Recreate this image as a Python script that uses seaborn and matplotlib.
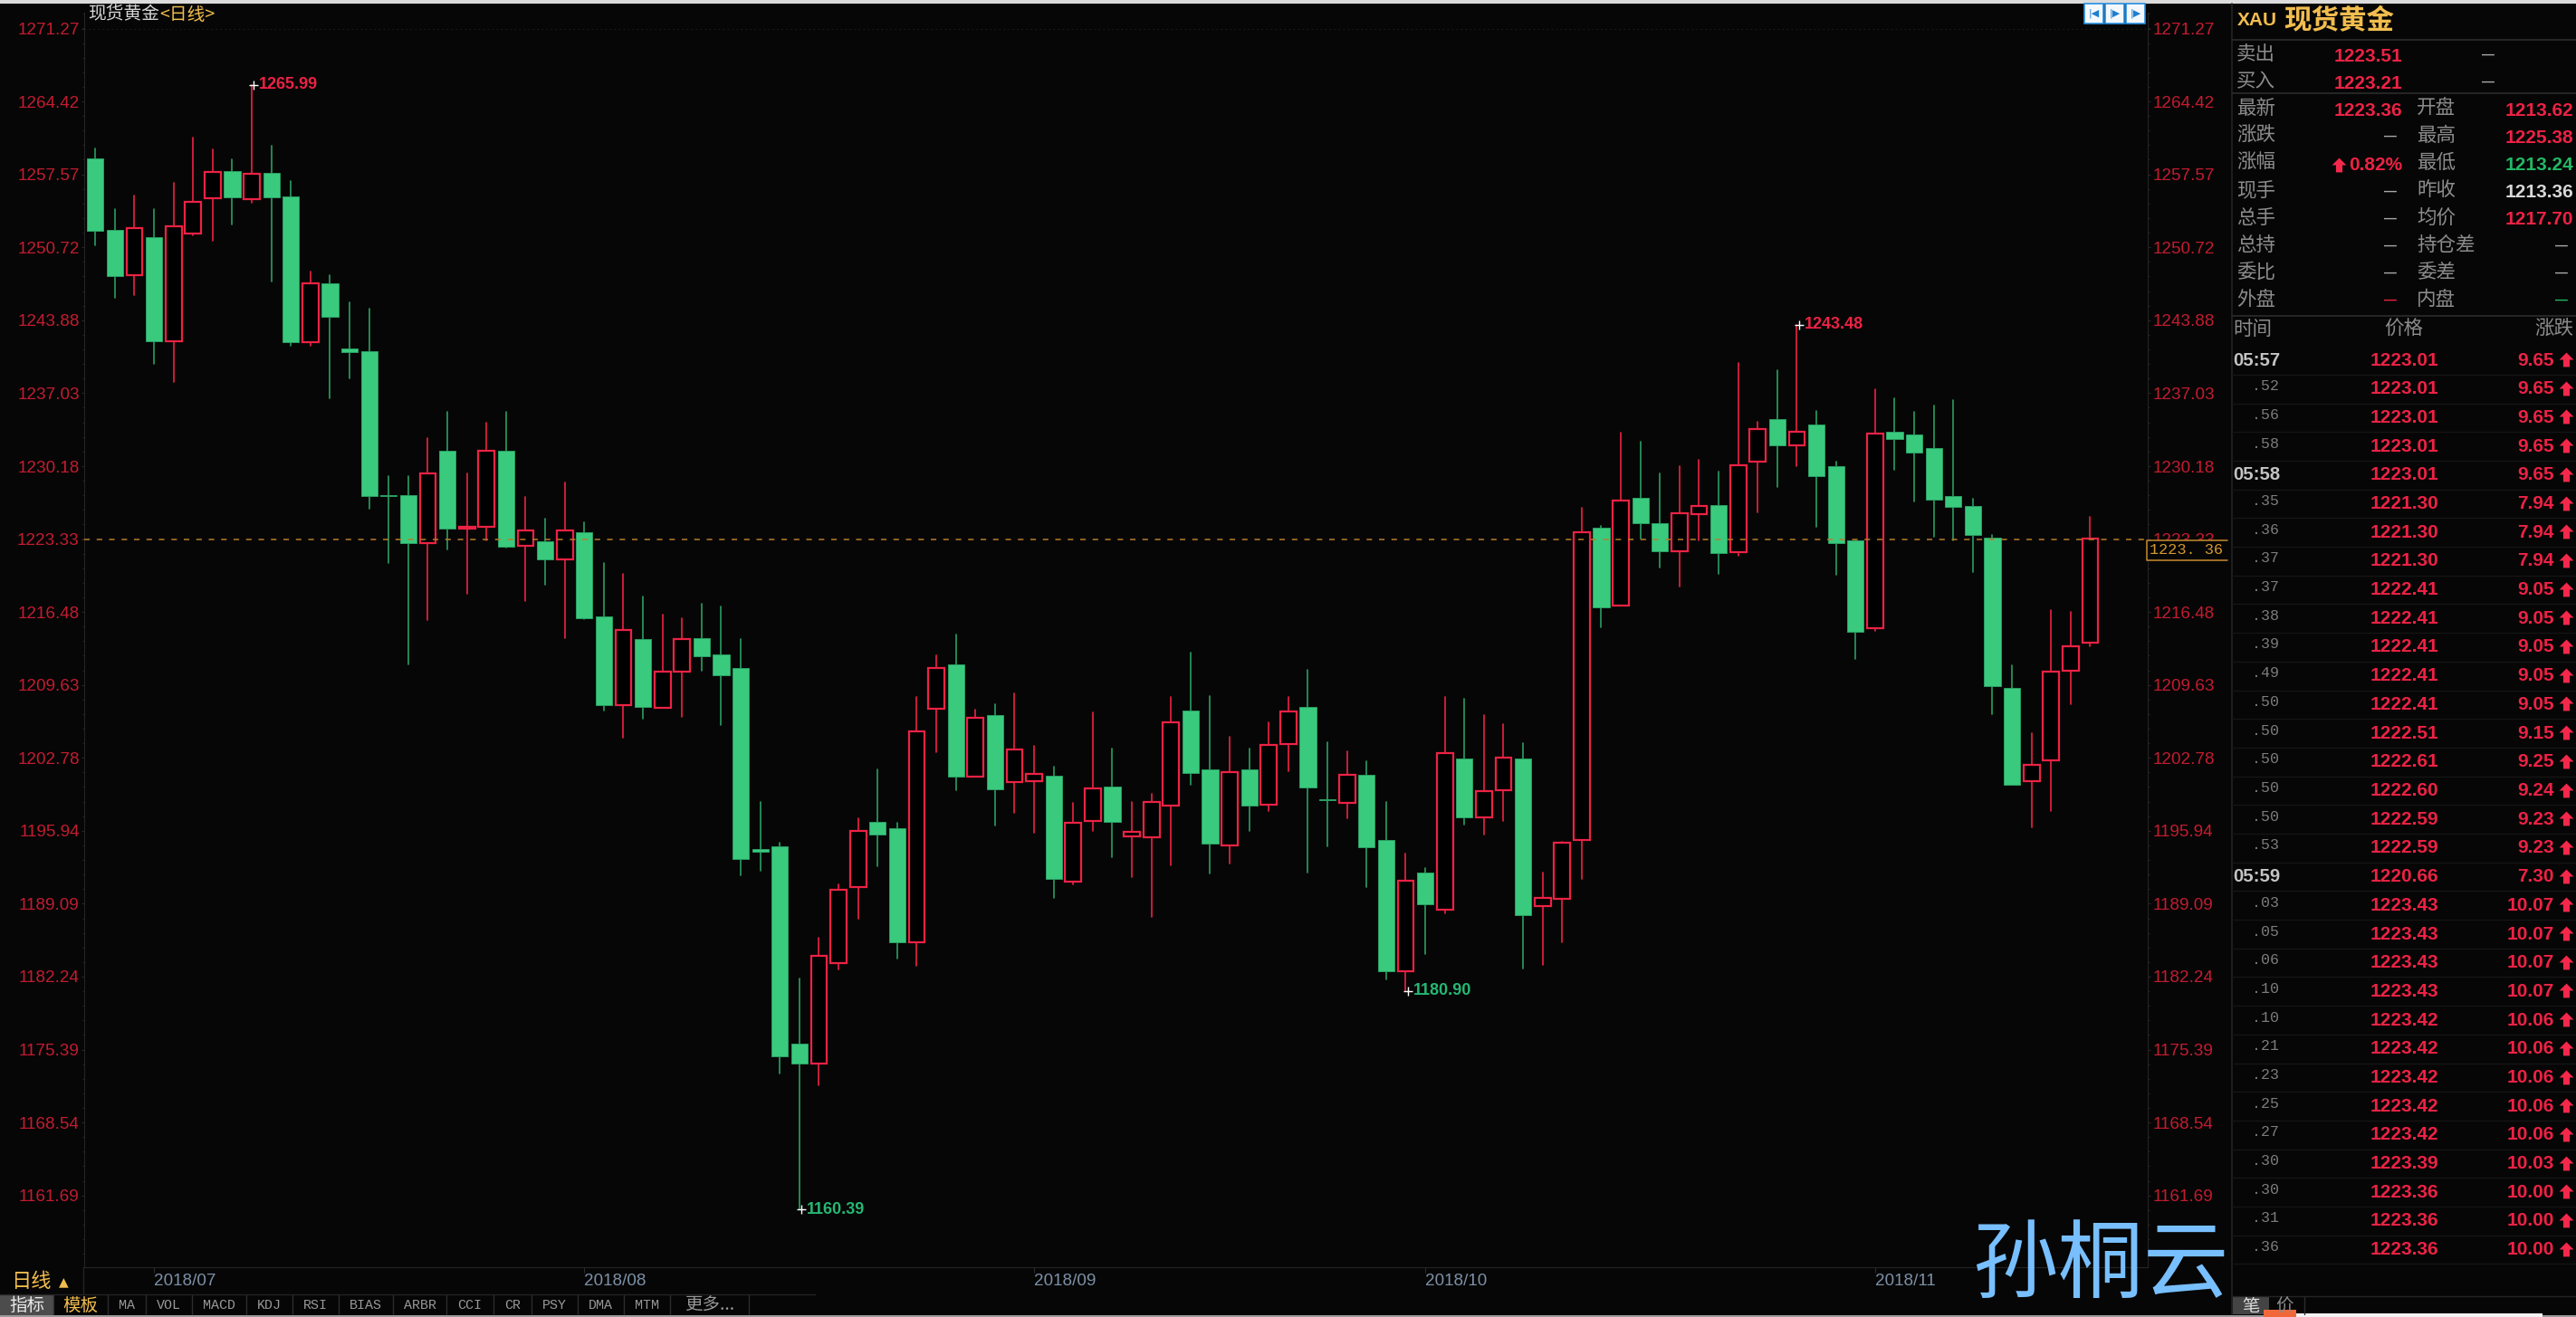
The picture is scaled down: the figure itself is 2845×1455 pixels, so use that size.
import numpy as np
import pandas as pd
import matplotlib
matplotlib.use('Agg')
import matplotlib.pyplot as plt
import seaborn as sns
from matplotlib.patches import Rectangle
from matplotlib.ticker import AutoMinorLocator
from matplotlib.transforms import blended_transform_factory

# daily candles
opens = [1259.11, 1252.34, 1248.11, 1251.72, 1241.93, 1252.03, 1255.36, 1257.86, 1255.22, 1257.69,
         1255.54, 1241.79, 1247.38, 1241.24, 1241.00, 1227.46, 1227.46, 1222.95, 1231.66, 1224.34,
         1224.48, 1231.66, 1222.67, 1223.16, 1221.39, 1223.99, 1216.05, 1207.77, 1213.98, 1207.49,
         1210.86, 1214.06, 1212.50, 1211.26, 1194.21, 1194.45, 1175.96, 1174.08, 1183.54, 1190.68,
         1196.74, 1196.22, 1185.43, 1207.41, 1211.54, 1200.99, 1206.81, 1200.51, 1200.63, 1201.07,
         1191.20, 1196.82, 1200.07, 1195.41, 1195.29, 1198.34, 1207.21, 1201.71, 1194.53, 1201.71,
         1198.38, 1204.08, 1207.57, 1198.93, 1198.59, 1201.20, 1195.08, 1182.78, 1192.01, 1188.53,
         1202.73, 1197.20, 1199.75, 1202.73, 1188.90, 1189.56, 1195.04, 1224.42, 1217.09, 1227.22,
         1224.79, 1222.19, 1225.65, 1226.56, 1222.07, 1230.60, 1234.60, 1232.12, 1234.10, 1230.15,
         1223.18, 1214.94, 1233.44, 1233.19, 1231.92, 1227.34, 1226.44, 1223.47, 1209.34, 1200.61,
         1202.54, 1210.99, 1213.62]
highs = [1260.01, 1254.29, 1255.64, 1254.29, 1256.82, 1261.05, 1259.91, 1259.01, 1265.99, 1260.25,
         1256.92, 1248.49, 1248.14, 1245.58, 1244.95, 1229.27, 1229.27, 1232.81, 1235.24, 1229.51,
         1234.23, 1235.24, 1227.32, 1225.21, 1228.61, 1224.93, 1221.08, 1220.07, 1217.92, 1216.24,
         1215.87, 1217.27, 1217.03, 1213.94, 1198.66, 1194.85, 1182.10, 1185.87, 1190.88, 1197.10,
         1201.71, 1196.70, 1208.49, 1212.42, 1214.35, 1207.33, 1207.85, 1208.85, 1203.88, 1201.99,
         1198.54, 1207.09, 1203.64, 1198.66, 1199.43, 1208.49, 1212.66, 1208.61, 1204.76, 1203.64,
         1206.16, 1208.49, 1211.02, 1204.26, 1203.38, 1202.47, 1198.65, 1193.80, 1192.41, 1208.48,
         1208.34, 1206.81, 1205.93, 1204.14, 1192.04, 1194.92, 1226.31, 1224.58, 1233.32, 1232.45,
         1229.53, 1230.15, 1230.76, 1229.65, 1239.83, 1234.35, 1239.21, 1243.48, 1235.38, 1230.64,
         1223.22, 1237.40, 1236.53, 1235.25, 1235.91, 1236.41, 1227.10, 1223.76, 1211.52, 1205.14,
         1216.63, 1216.51, 1225.38]
lows = [1250.89, 1246.03, 1246.27, 1239.78, 1238.12, 1251.89, 1251.37, 1252.90, 1254.95, 1247.52,
        1241.52, 1241.52, 1236.55, 1238.46, 1226.21, 1221.11, 1211.57, 1215.77, 1222.40, 1218.20,
        1223.23, 1222.50, 1217.54, 1219.07, 1214.00, 1215.80, 1207.21, 1204.68, 1206.44, 1207.49,
        1206.60, 1210.94, 1205.84, 1191.80, 1192.17, 1173.15, 1160.39, 1172.03, 1182.90, 1187.67,
        1192.57, 1183.90, 1183.26, 1203.28, 1199.71, 1200.99, 1196.42, 1197.66, 1195.77, 1189.64,
        1190.88, 1195.90, 1193.45, 1191.56, 1187.87, 1192.69, 1200.23, 1191.92, 1192.85, 1195.90,
        1197.78, 1201.51, 1192.04, 1194.45, 1197.14, 1190.63, 1181.95, 1180.90, 1184.39, 1188.22,
        1196.52, 1195.61, 1196.89, 1182.97, 1183.38, 1185.44, 1191.42, 1215.03, 1217.09, 1223.39,
        1220.63, 1218.86, 1223.22, 1220.09, 1221.78, 1225.86, 1228.25, 1230.19, 1224.46, 1219.97,
        1212.06, 1214.70, 1229.82, 1226.85, 1223.55, 1223.22, 1220.22, 1206.87, 1200.23, 1196.28,
        1197.80, 1207.86, 1213.24]
closes = [1252.27, 1248.04, 1252.55, 1241.90, 1252.69, 1254.98, 1257.79, 1255.43, 1257.65, 1255.43,
          1241.79, 1247.35, 1244.22, 1240.89, 1227.39, 1227.36, 1222.95, 1229.48, 1224.31, 1224.51,
          1231.63, 1222.64, 1224.13, 1221.39, 1224.13, 1215.88, 1207.72, 1214.83, 1207.60, 1210.89,
          1213.94, 1212.34, 1210.54, 1193.33, 1193.97, 1174.72, 1174.08, 1184.22, 1190.44, 1195.94,
          1195.61, 1185.43, 1205.24, 1211.26, 1200.99, 1206.52, 1199.83, 1203.60, 1201.31, 1191.44,
          1196.70, 1199.91, 1196.78, 1195.81, 1198.62, 1206.12, 1201.35, 1194.73, 1201.43, 1198.30,
          1203.96, 1207.17, 1199.99, 1198.82, 1201.17, 1194.37, 1182.72, 1191.22, 1189.01, 1203.21,
          1197.17, 1199.64, 1202.84, 1187.99, 1189.65, 1194.80, 1223.97, 1216.92, 1226.93, 1224.83,
          1222.15, 1225.78, 1226.40, 1222.03, 1230.23, 1233.69, 1232.12, 1233.40, 1229.28, 1222.94,
          1214.61, 1233.28, 1232.74, 1231.46, 1227.01, 1226.36, 1223.76, 1209.55, 1200.23, 1202.17,
          1210.86, 1213.29, 1223.36]

y_labels = ['1271.27', '1264.42', '1257.57', '1250.72', '1243.88', '1237.03', '1230.18', '1223.33', '1216.48',
            '1209.63', '1202.78', '1195.94', '1189.09', '1182.24', '1175.39', '1168.54', '1161.69']
month_days = [3, 25, 48, 68, 91]
month_labels = ['2018/07', '2018/08', '2018/09', '2018/10', '2018/11']
peak_days = [8, 87]
trough_days = [36, 67]

quote_top = [('卖出', '1223.51'), ('买入', '1223.21')]
left_names = ['最新', '涨跌', '涨幅', '现手', '总手', '总持', '委比', '外盘']
left_values = ['1223.36', '—', '0.82%', '—', '—', '—', '—', '—']
right_names = ['开盘', '最高', '最低', '昨收', '均价', '持仓差', '委差', '内盘']
right_values = ['1213.62', '1225.38', '1213.24', '1213.36', '1217.70', '—', '—', '—']

tick_times = ['05:57', '.52', '.56', '.58', '05:58', '.35', '.36', '.37', '.37', '.38', '.39', '.49', '.50', '.50',
              '.50', '.50', '.50', '.53', '05:59', '.03', '.05', '.06', '.10', '.10', '.21', '.23', '.25', '.27',
              '.30', '.30', '.31', '.36']
tick_prices = ['1223.01'] * 5 + ['1221.30'] * 3 + ['1222.41'] * 5 + ['1222.51', '1222.61', '1222.60', '1222.59',
               '1222.59', '1220.66'] + ['1223.43'] * 4 + ['1223.42'] * 5 + ['1223.39'] + ['1223.36'] * 3
tick_changes = ['9.65'] * 5 + ['7.94'] * 3 + ['9.05'] * 5 + ['9.15', '9.25', '9.24', '9.23', '9.23', '7.30'] + \
               ['10.07'] * 4 + ['10.06'] * 5 + ['10.03'] + ['10.00'] * 3

tab_names = ['指标', '模板', 'MA', 'VOL', 'MACD', 'KDJ', 'RSI', 'BIAS', 'ARBR', 'CCI', 'CR', 'PSY', 'DMA', 'MTM', '更多...']
tab_edges = [0, 59, 119, 161, 212, 272, 323, 374, 434, 493, 545, 587, 638, 689, 740, 827]

# colours
BG = '#060606'
RED = '#ec2244'
AXRED = '#c21c30'
GREEN = '#3aca7e'
WICK_GREEN = '#2a9e62'
ORANGE = '#b87c2c'
GOLD = '#f2bd4e'
GREY = '#8c8c8c'
DIM = '#242424'
CJK = ['Noto Sans CJK SC', 'DejaVu Sans']
NUM = ['Liberation Sans', 'Noto Sans CJK SC', 'DejaVu Sans']
MONO = ['Liberation Mono', 'Noto Sans CJK SC', 'DejaVu Sans']

sns.set_theme(style='dark', rc={'figure.facecolor': BG, 'axes.facecolor': BG, 'savefig.facecolor': BG,
                                'axes.edgecolor': DIM, 'axes.linewidth': 0.8})
plt.rcParams['font.family'] = NUM

W, H = 2845, 1455
fig = plt.figure(figsize=(W / 100, H / 100), dpi=100)

# main candle chart, pixel box 93..2372 / 14..1400
ax = fig.add_axes([93 / W, 1 - 1400 / H, (2372 - 93) / W, (1400 - 14) / H])

df = pd.DataFrame({'day': np.arange(len(opens)), 'open': opens, 'high': highs, 'low': lows, 'close': closes})
df['dir'] = np.where(df['close'] >= df['open'], 'up', 'down')
df['top'] = df[['open', 'close']].max(axis=1)
df['bottom'] = df[['open', 'close']].min(axis=1)

wicks = df.melt(id_vars=['day', 'dir'], value_vars=['high', 'low'], value_name='price')
sns.lineplot(data=wicks, x='day', y='price', units='day', estimator=None, hue='dir', sort=False,
             palette={'up': RED, 'down': WICK_GREEN}, linewidth=1.2, legend=False, ax=ax, zorder=2)

up = df[df['dir'] == 'up']
down = df[df['dir'] == 'down']
ax.bar(down['day'], down['top'] - down['bottom'], bottom=down['bottom'], width=0.84, color=GREEN,
       edgecolor=WICK_GREEN, linewidth=0.7, zorder=3)
ax.bar(up['day'], up['top'] - up['bottom'], bottom=up['bottom'], width=0.82, color='#000000',
       edgecolor=RED, linewidth=1.6, zorder=3)

y_ticks = [float(t) for t in y_labels]
last_close = closes[-1]
ax.axhline(y_ticks[7], color=ORANGE, linewidth=1.1, dashes=(4, 5), zorder=4)
ax.axhline(y_ticks[0], color='#1c1c1c', linewidth=0.8, dashes=(1.5, 3), zorder=1)

# highest / lowest labels
for d in peak_days:
    ax.plot(d + 0.1, highs[d], '+', color='white', ms=7, mew=1, zorder=5)
    ax.annotate(f'{highs[d]:.2f}', (d, highs[d]), xytext=(5.8, 0), textcoords='offset points', va='center',
                color=RED, fontsize=13, weight='bold')
for d in trough_days:
    ax.plot(d + 0.1, lows[d], '+', color='white', ms=7, mew=1, zorder=5)
    ax.annotate(f'{lows[d]:.2f}', (d, lows[d]), xytext=(5.8, 0), textcoords='offset points', va='center',
                color='#25b874', fontsize=13, weight='bold')

ax.set_xlim(-0.569, 104.94)
ax.set_ylim(1154.95, 1272.77)
ax.set_xlabel('')
ax.set_ylabel('')
ax.set_yticks(y_ticks)
ax.set_yticklabels(y_labels)
ax.yaxis.set_minor_locator(AutoMinorLocator(5))
ax.tick_params(axis='y', which='major', left=True, right=True, labelleft=True, labelright=True, length=2.5,
               width=0.8, color='#3a2024', labelcolor=AXRED, labelsize=13.6, pad=1.2)
ax.tick_params(axis='y', which='minor', left=True, right=True, length=1.5, width=0.8, color='#242424')
ax.set_xticks(month_days)
ax.set_xticklabels(month_labels, ha='left')
ax.tick_params(axis='x', bottom=True, length=4, width=0.8, color='#2c2c2c', labelcolor='#7d90a6', labelsize=13.6, pad=1)
ax.grid(False)
ax.spines['top'].set_visible(False)

# last price box on the right axis
tr = blended_transform_factory(ax.transAxes, ax.transData)
ax.add_patch(Rectangle((0.9995, last_close - 2.02), 0.04, 1.87, transform=tr, facecolor=BG, edgecolor='none',
                       clip_on=False, zorder=6))
ax.plot([1.0387, 0.9995, 0.9995, 1.0387], [last_close - 0.15, last_close - 0.15, last_close - 2.02, last_close - 2.02],
        transform=tr, color='#c88a30', linewidth=1.1, clip_on=False, zorder=7)
ax.text(1.001, last_close - 1.05, f'{last_close:.2f}'.replace('.', '. '), transform=tr, color='#d8982e', fontsize=12.2,
        family=MONO, va='center', ha='left', zorder=8, clip_on=False)

# everything around the chart, in pixels of the picture
panel = fig.add_axes([0, 0, 1, 1], zorder=10)
panel.set_xlim(0, W)
panel.set_ylim(H, 0)
panel.axis('off')
panel.patch.set_alpha(0)

panel.add_patch(Rectangle((0, 0), W, 4, facecolor='#dcdcdc', edgecolor='none'))
panel.add_patch(Rectangle((0, 1453), W, 2, facecolor='#9a9a9a', edgecolor='none'))

panel.text(97, 16, '现货黄金', color='#d6d6d6', fontsize=14.2, family=CJK, va='center', ha='left')
panel.text(176, 16, '<日线>', color=GOLD, fontsize=14.2, family=CJK, va='center', ha='left')

# toolbar icons
for x0, glyph in zip([2302, 2325, 2348], ['|◀', '|▶', '|▶']):
    panel.add_patch(Rectangle((x0, 4), 21, 22, facecolor='#f4f8fc', edgecolor='#2a8fe0', linewidth=1.2))
    panel.text(x0 + 10.5, 15, glyph, color='#1f7fd0', fontsize=8, family='DejaVu Sans', va='center', ha='center')

# side panel frame
panel.plot([2465, 2465], [4, 1452], color=DIM, linewidth=1.2)
for y in [44, 103, 349]:
    panel.plot([2465, W], [y, y], color='#2c2c2c', linewidth=1.2)

panel.text(2471, 23, 'XAU', color=GOLD, fontsize=15, weight='bold', va='center', ha='left')
panel.text(2522, 23, '现货黄金', color=GOLD, fontsize=22, weight='bold', family=CJK, va='center', ha='left')

value_font = dict(fontsize=15, weight='bold', va='center')
dash_font = dict(fontsize=10, weight='bold', va='center', ha='right')

for i, (name, price) in enumerate(quote_top):
    y = 60 + i * 30
    panel.text(2470, y, name, color=GREY, fontsize=15.5, family=CJK, va='center', ha='left')
    panel.text(2653, y + 2, price, color=RED, ha='right', **value_font)
    panel.text(2755, y + 1, '—', color='#a8a8a8', **dash_font)

right_colors = [RED, RED, '#22b865', '#d8d8d8', RED]
for i in range(len(left_names)):
    y = 120 + i * 30.15
    panel.text(2470, y, left_names[i], color=GREY, fontsize=15.5, family=CJK, va='center', ha='left')
    panel.text(2669, y, right_names[i], color=GREY, fontsize=15.5, family=CJK, va='center', ha='left')
    if left_values[i] == '—':
        dash_col = RED if left_names[i] == '外盘' else '#a8a8a8'
        panel.text(2647, y + 1, '—', color=dash_col, **dash_font)
    else:
        panel.text(2653, y + 2, left_values[i], color=RED, ha='right', **value_font)
    if right_values[i] == '—':
        dash_col = '#22b865' if right_names[i] == '内盘' else '#a8a8a8'
        panel.text(2836, y + 1, '—', color=dash_col, **dash_font)
    else:
        panel.text(2842, y + 2, right_values[i], color=right_colors[i], ha='right', **value_font)

panel.text(2466, 364, '时间', color=GREY, fontsize=15.5, family=CJK, va='center', ha='left')
panel.text(2655, 364, '价格', color=GREY, fontsize=15.5, family=CJK, va='center', ha='center')
panel.text(2842, 364, '涨跌', color=GREY, fontsize=15.5, family=CJK, va='center', ha='right')

arrow = [(0, 1), (-1, 0), (-0.45, 0), (-0.45, -1), (0.45, -1), (0.45, 0), (1, 0), (0, 1)]
arrow_x, arrow_y = [2583], [182]
for i, (t, p, c) in enumerate(zip(tick_times, tick_prices, tick_changes)):
    y = 398 + i * 31.7
    if ':' in t:
        panel.text(2466, y, t, color='#c4c4c4', fontsize=14.6, weight='bold', va='center', ha='left')
    else:
        panel.text(2517, y - 3, t, color='#7c7c7c', fontsize=12, family=MONO, va='center', ha='right')
    panel.text(2693, y, p, color=RED, ha='right', **value_font)
    panel.text(2821, y, c, color=RED, ha='right', **value_font)
    arrow_x.append(2834)
    arrow_y.append(y - 1)
    panel.plot([2465, W], [y + 15.8, y + 15.8], color='#151515', linewidth=1)
panel.scatter(arrow_x, arrow_y, marker=arrow, s=130, color='#f4284a', linewidths=0)

# bottom left, period and tabs
panel.text(12, 1415, '日线', color=GOLD, fontsize=16, family=CJK, va='center', ha='left')
panel.text(70, 1416, '▲', color=GOLD, fontsize=10, family='DejaVu Sans', va='center', ha='center')
panel.plot([92, 92], [1400, 1430], color=DIM, linewidth=1)
panel.plot([0, 900], [1430, 1430], color=DIM, linewidth=1)
panel.add_patch(Rectangle((0, 1431), 59, 22, facecolor='#4c4c4c', edgecolor='none'))
for i, name in enumerate(tab_names):
    cx = (tab_edges[i] + tab_edges[i + 1]) / 2
    col = '#e8e8e8' if i == 0 else GOLD if i == 1 else '#989898'
    fam = CJK if i < 2 or name.startswith('更') else MONO
    panel.text(cx, 1442, name, color=col, fontsize=14 if fam is CJK else 10.8, family=fam, va='center', ha='center')
    panel.plot([tab_edges[i + 1]] * 2, [1431, 1452], color='#2c2c2c', linewidth=1)

# bottom right tabs
panel.plot([2465, W], [1432, 1432], color=DIM, linewidth=1)
panel.add_patch(Rectangle((2466, 1433), 40, 19, facecolor='#444444', edgecolor='none'))
panel.text(2486, 1443, '笔', color='#e0e0e0', fontsize=14, family=CJK, va='center', ha='center')
panel.text(2523, 1443, '价', color=GREY, fontsize=14, family=CJK, va='center', ha='center')
panel.plot([2545, 2545], [1433, 1452], color='#2c2c2c', linewidth=1)
panel.add_patch(Rectangle((2530, 1451), 278, 4, facecolor='#f2f2f2', edgecolor='none'))
panel.add_patch(Rectangle((2500, 1447), 36, 8, facecolor='#f0683a', edgecolor='none'))

# watermark
panel.text(2320, 1399, '孙桐云', color='#78bfff', fontsize=68, family=CJK, va='center', ha='center', zorder=20)

fig.savefig('out.png', dpi=100)
